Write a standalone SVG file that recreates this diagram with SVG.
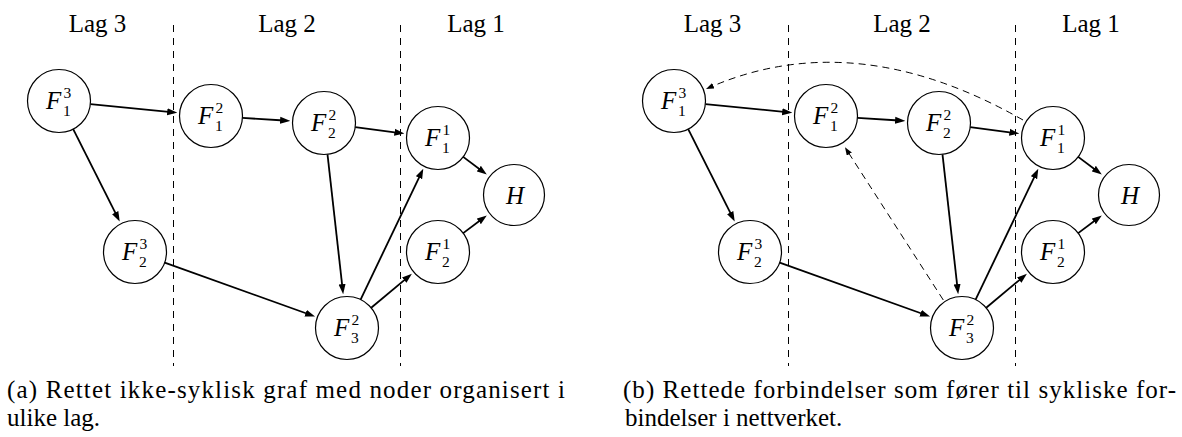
<svg xmlns="http://www.w3.org/2000/svg" width="1182" height="437" viewBox="0 0 1182 437">
<style>
  .bg{fill:#fff}
  .node circle{fill:#fff;stroke:#000;stroke-width:1.2}
  .m{font-family:'Liberation Serif','DejaVu Serif',serif;font-style:italic;font-size:25px;fill:#000}
  .s{font-family:'Liberation Serif','DejaVu Serif',serif;font-size:15.5px;fill:#000}
  .t{font-family:'Liberation Serif','DejaVu Serif',serif;font-size:25px;fill:#000}
  .div{stroke:#000;stroke-width:1;stroke-dasharray:7 6;fill:none}
  .e{stroke:#000;stroke-width:1.8;fill:none;marker-end:url(#ah)}
  .d{stroke:#000;stroke-width:1;stroke-dasharray:7 5;fill:none;marker-end:url(#ahs)}
</style>
<defs>
  <marker id="ah" markerUnits="userSpaceOnUse" markerWidth="10" markerHeight="8" viewBox="0 0 10 7" refX="4" refY="3.5" orient="auto">
    <path d="M0,0 L10,3.5 L0,7 Z" fill="#000"/>
  </marker>
  <marker id="ahs" markerUnits="userSpaceOnUse" markerWidth="8" markerHeight="6" viewBox="0 0 8 6" refX="3" refY="3" orient="auto">
    <path d="M0,0 L8,3 L0,6 Z" fill="#000"/>
  </marker>
</defs>
<rect class="bg" x="0" y="0" width="1182" height="437"/>

<!-- Panel (a) -->
<g id="panel-a">
  <g id="layers-a">
    <text class="t" x="97.5" y="31.7" text-anchor="middle">Lag 3</text>
    <text class="t" x="287" y="31.7" text-anchor="middle">Lag 2</text>
    <text class="t" x="476" y="31.7" text-anchor="middle">Lag 1</text>
    <line class="div" x1="173.5" y1="25" x2="173.5" y2="366"/>
    <line class="div" x1="400.5" y1="25" x2="400.5" y2="366"/>
  </g>
  <g id="connectors-a">
    <line class="e" x1="90.4" y1="104.1" x2="171.2" y2="112.1"/>
    <line class="e" x1="73.2" y1="129.1" x2="117.0" y2="216.2"/>
    <line class="e" x1="242.4" y1="117.9" x2="284.1" y2="120.5"/>
    <line class="e" x1="355.2" y1="127.1" x2="398.4" y2="132.8"/>
    <line class="e" x1="327.5" y1="154.3" x2="342.5" y2="288.2"/>
    <line class="e" x1="360.6" y1="299.6" x2="420.7" y2="174.1"/>
    <line class="e" x1="371.2" y1="307.8" x2="407.3" y2="277.6"/>
    <line class="e" x1="164.7" y1="262.6" x2="309.4" y2="314.5"/>
    <line class="e" x1="463.2" y1="156.9" x2="482.0" y2="171.0"/>
    <line class="e" x1="463.2" y1="233.1" x2="482.0" y2="219.0"/>
  </g>
  <g id="a-F13" class="node"><circle cx="59" cy="101" r="31.5"/><text class="m" x="46" y="108.5">F</text><text class="s" x="63.5" y="98">3</text><text class="s" x="63" y="115.5">1</text></g>
  <g id="a-F23" class="node"><circle cx="135" cy="252" r="31.5"/><text class="m" x="122" y="259.5">F</text><text class="s" x="139.5" y="249">3</text><text class="s" x="139" y="266.5">2</text></g>
  <g id="a-F12" class="node"><circle cx="211" cy="116" r="31.5"/><text class="m" x="198" y="123.5">F</text><text class="s" x="215.5" y="113">2</text><text class="s" x="215" y="130.5">1</text></g>
  <g id="a-F22" class="node"><circle cx="324" cy="123" r="31.5"/><text class="m" x="311" y="130.5">F</text><text class="s" x="328.5" y="120">2</text><text class="s" x="328" y="137.5">2</text></g>
  <g id="a-F32" class="node"><circle cx="347" cy="328" r="31.5"/><text class="m" x="334" y="335.5">F</text><text class="s" x="351.5" y="325">2</text><text class="s" x="351" y="342.5">3</text></g>
  <g id="a-F11" class="node"><circle cx="438" cy="138" r="31.5"/><text class="m" x="425" y="145.5">F</text><text class="s" x="442.5" y="135">1</text><text class="s" x="442" y="152.5">1</text></g>
  <g id="a-F21" class="node"><circle cx="438" cy="252" r="31.5"/><text class="m" x="425" y="259.5">F</text><text class="s" x="442.5" y="249">1</text><text class="s" x="442" y="266.5">2</text></g>
  <g id="a-H" class="node"><circle cx="514" cy="195" r="30.5"/><text class="m" x="515" y="203.5" text-anchor="middle">H</text></g>
  <text class="t" x="7" y="398" textLength="558" lengthAdjust="spacing">(a) Rettet ikke-syklisk graf med noder organisert i</text>
  <text class="t" x="7" y="426">ulike lag.</text>
</g>

<!-- Panel (b) -->
<g id="panel-b" transform="translate(615,0)">
  <g id="layers-b">
    <text class="t" x="97.5" y="31.7" text-anchor="middle">Lag 3</text>
    <text class="t" x="287" y="31.7" text-anchor="middle">Lag 2</text>
    <text class="t" x="476" y="31.7" text-anchor="middle">Lag 1</text>
    <line class="div" x1="173.5" y1="25" x2="173.5" y2="366"/>
    <line class="div" x1="400.5" y1="25" x2="400.5" y2="366"/>
  </g>
  <g id="connectors-b">
    <line class="e" x1="90.4" y1="104.1" x2="171.2" y2="112.1"/>
    <line class="e" x1="73.2" y1="129.1" x2="117.0" y2="216.2"/>
    <line class="e" x1="242.4" y1="117.9" x2="284.1" y2="120.5"/>
    <line class="e" x1="355.2" y1="127.1" x2="398.4" y2="132.8"/>
    <line class="e" x1="327.5" y1="154.3" x2="342.5" y2="288.2"/>
    <line class="e" x1="360.6" y1="299.6" x2="420.7" y2="174.1"/>
    <line class="e" x1="371.2" y1="307.8" x2="407.3" y2="277.6"/>
    <line class="e" x1="164.7" y1="262.6" x2="309.4" y2="314.5"/>
    <line class="e" x1="463.2" y1="156.9" x2="482.0" y2="171.0"/>
    <line class="e" x1="463.2" y1="233.1" x2="482.0" y2="219.0"/>
    <path class="d" d="M408,120 Q240.5,24.5 95.6,87.0"/>
    <line class="d" x1="328.3" y1="300" x2="232.7" y2="151.5"/>
  </g>
  <g id="b-F13" class="node"><circle cx="59" cy="101" r="31.5"/><text class="m" x="46" y="108.5">F</text><text class="s" x="63.5" y="98">3</text><text class="s" x="63" y="115.5">1</text></g>
  <g id="b-F23" class="node"><circle cx="135" cy="252" r="31.5"/><text class="m" x="122" y="259.5">F</text><text class="s" x="139.5" y="249">3</text><text class="s" x="139" y="266.5">2</text></g>
  <g id="b-F12" class="node"><circle cx="211" cy="116" r="31.5"/><text class="m" x="198" y="123.5">F</text><text class="s" x="215.5" y="113">2</text><text class="s" x="215" y="130.5">1</text></g>
  <g id="b-F22" class="node"><circle cx="324" cy="123" r="31.5"/><text class="m" x="311" y="130.5">F</text><text class="s" x="328.5" y="120">2</text><text class="s" x="328" y="137.5">2</text></g>
  <g id="b-F32" class="node"><circle cx="347" cy="328" r="31.5"/><text class="m" x="334" y="335.5">F</text><text class="s" x="351.5" y="325">2</text><text class="s" x="351" y="342.5">3</text></g>
  <g id="b-F11" class="node"><circle cx="438" cy="138" r="31.5"/><text class="m" x="425" y="145.5">F</text><text class="s" x="442.5" y="135">1</text><text class="s" x="442" y="152.5">1</text></g>
  <g id="b-F21" class="node"><circle cx="438" cy="252" r="31.5"/><text class="m" x="425" y="259.5">F</text><text class="s" x="442.5" y="249">1</text><text class="s" x="442" y="266.5">2</text></g>
  <g id="b-H" class="node"><circle cx="514" cy="195" r="30.5"/><text class="m" x="515" y="203.5" text-anchor="middle">H</text></g>
  <text class="t" x="8" y="398" textLength="553" lengthAdjust="spacing">(b) Rettede forbindelser som fører til sykliske for-</text>
  <text class="t" x="10" y="426">bindelser i nettverket.</text>
</g>
</svg>
